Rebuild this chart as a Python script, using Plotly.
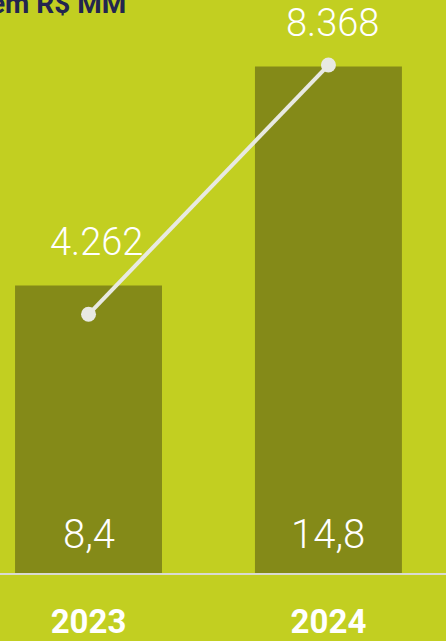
import plotly.graph_objects as go

years = ["2023", "2024"]
bar_values = [8.4, 14.8]
bar_labels = ["8,4", "14,8"]
line_values = [4262, 8368]
line_labels = ["4.262", "8.368"]

BG = "#C2CF21"
BAR = "#848A18"
LINE = "#E8E9E2"

fig = go.Figure()

fig.add_trace(go.Bar(
    x=years, y=bar_values,
    marker=dict(color=BAR, line=dict(width=0)),
    width=0.6125,
    hoverinfo="skip",
))

fig.add_trace(go.Scatter(
    x=years, y=line_values, yaxis="y2",
    mode="lines+markers",
    line=dict(color=LINE, width=4),
    marker=dict(color=LINE, size=15),
    hoverinfo="skip",
))

# value labels inside the bars (x as category index)
for i, lbl in enumerate(bar_labels):
    fig.add_annotation(x=i, y=0, text=lbl, showarrow=False,
                       yanchor="middle", yshift=39,
                       font=dict(family="Roboto", size=40, color="white", weight=300))

# labels above the line points (offsets differ in the original layout)
shifts = [(8, 72), (4, 42)]
for i, (v, lbl) in enumerate(zip(line_values, line_labels)):
    dx, dy = shifts[i]
    fig.add_annotation(x=i, y=v, yref="y2", text=lbl, showarrow=False,
                       yanchor="middle", xshift=dx, yshift=dy,
                       font=dict(family="Roboto", size=38, color="white", weight=300))

fig.add_annotation(x=0, y=1, xref="paper", yref="paper", text="<b>em R$ MM</b>",
                   showarrow=False, xanchor="left", yanchor="middle",
                   xshift=-12, yshift=-3,
                   font=dict(family="Roboto", size=28, color="#23254F"))

fig.update_layout(
    width=446, height=641,
    margin=dict(l=0, r=0, t=0, b=64),
    paper_bgcolor=BG, plot_bgcolor=BG,
    showlegend=False,
    xaxis=dict(type="category", range=[-0.369, 1.49],
               showline=True, linecolor="#D9DAD2", linewidth=2,
               showgrid=False, zeroline=False, ticks="",
               ticklabelstandoff=18,
               tickfont=dict(family="Roboto", size=33, color="white", weight=700)),
    yaxis=dict(range=[0, 16.74], visible=False, showgrid=False, zeroline=False),
    yaxis2=dict(range=[0, 9439], overlaying="y", visible=False,
                showgrid=False, zeroline=False),
)

fig.write_html("out.html", config={"displayModeBar": False},
               post_script="document.body.style.margin='0';")
